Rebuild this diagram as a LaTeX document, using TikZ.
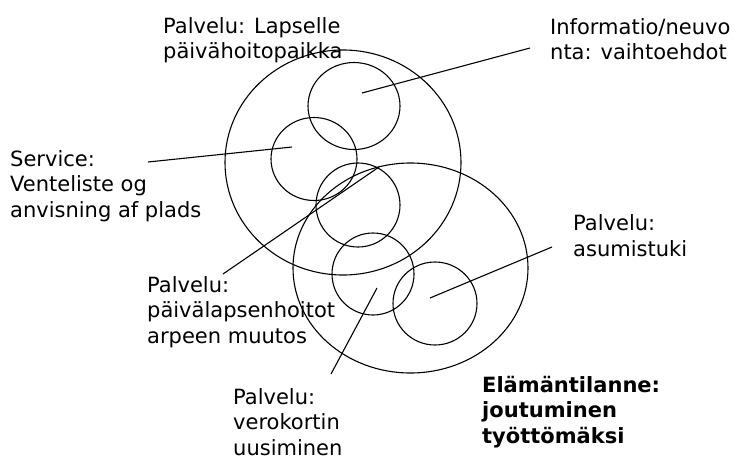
\documentclass[tikz,border=0pt]{standalone}
\usepackage{fontspec}
\setmainfont{DejaVu Sans}
\usetikzlibrary{shapes.geometric}
\tikzset{
  ring/.style={draw, ellipse, inner sep=0pt, outer sep=0pt, line width=1.1pt},
  lbl/.style={anchor=base west, align=left, inner sep=0pt, font=\fontsize{21}{25.5}\selectfont},
  lblb/.style={lbl, font=\fontsize{21}{25.5}\selectfont\bfseries},
  ln/.style={line width=1.1pt},
}
\begin{document}
\begin{tikzpicture}[x=1pt, y=-1pt]
\useasboundingbox (0,0) rectangle (740,459);
% circles
\node[ring, minimum width=236, minimum height=225] (up) at (343,162.5) {};
\node[ring, minimum width=235, minimum height=210] (low) at (410.5,268) {};
\node[ring, minimum width=92, minimum height=87] (inf) at (354,106) {};
\node[ring, minimum width=86, minimum height=83] (srv) at (314,159) {};
\node[ring, minimum width=84, minimum height=84] (mid) at (358,205) {};
\node[ring, minimum width=82, minimum height=82] (ver) at (373,274) {};
\node[ring, minimum width=84, minimum height=83] (asu) at (435,303.5) {};
% labels (anchored at the baseline of their last line)
\node[lbl] (lapsi) at (163,58.5) {Palvelu: Lapselle\\päivähoitopaikka};
\node[lbl] (info) at (550,59.5) {Informatio/neuvo\\nta: vaihtoehdot};
\node[lbl] (serv) at (10,217) {Service:\\Venteliste og\\anvisning af plads};
\node[lbl] (hoito) at (147,343) {Palvelu:\\päivälapsenhoitot\\arpeen muutos};
\node[lbl] (vero) at (233,455) {Palvelu:\\verokortin\\uusiminen};
\node[lbl] (asum) at (573,256) {Palvelu:\\asumistuki};
\node[lblb] (tilanne) at (482,443) {Elämäntilanne:\\joutuminen\\työttömäksi};
% line ends
\coordinate (info-a) at (530,48);   \coordinate (info-b) at (362,93);
\coordinate (serv-a) at (148,162);  \coordinate (serv-b) at (292,147);
\coordinate (hoito-a) at (223,274); \coordinate (hoito-b) at (379,167);
\coordinate (vero-a) at (331,374);  \coordinate (vero-b) at (377,288);
\coordinate (asum-a) at (552,247);  \coordinate (asum-b) at (430,298);
\draw[ln] (info-a) -- (info-b);
\draw[ln] (serv-a) -- (serv-b);
\draw[ln] (hoito-a) -- (hoito-b);
\draw[ln] (vero-a) -- (vero-b);
\draw[ln] (asum-a) -- (asum-b);
\end{tikzpicture}
\end{document}
